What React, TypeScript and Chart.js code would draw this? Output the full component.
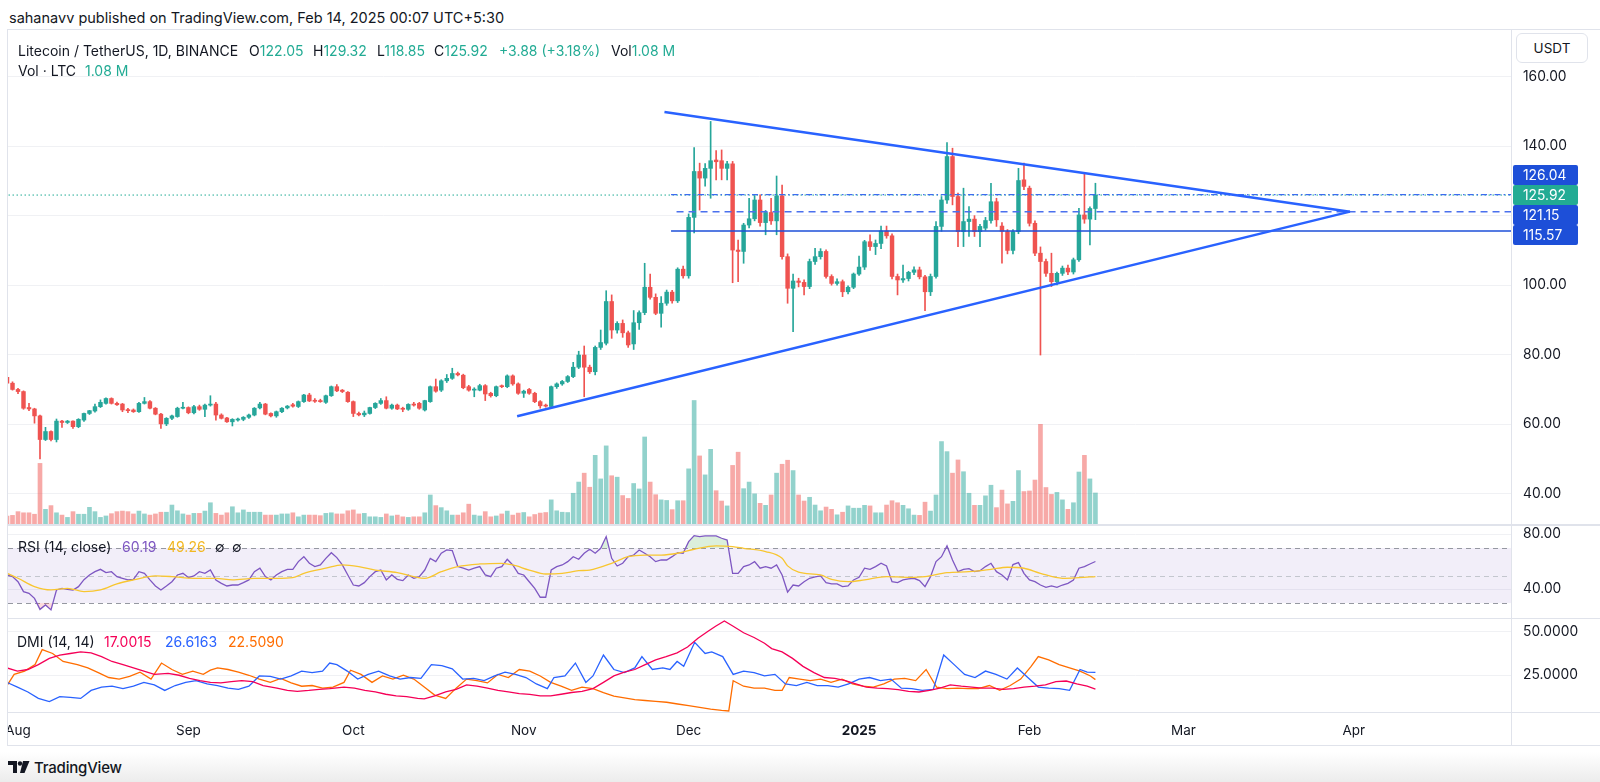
import React, { useEffect, useRef } from "react";
import { Chart, registerables } from "chart.js";

Chart.register(...registerables);

// ---------------- data ----------------
// day index: days counted from 2024-08-01 (0). First candle = 2024-07-30.
const FIRST_DAY = -2;

const opens = [
  73.5, 71.8, 70.0, 69.4, 64.8, 64.4, 62.4, 55.6, 57.9, 55.6, 60.9, 60.5,
  60.9, 59.3, 61.2, 63.1, 63.8, 65.05, 66.0, 67.4, 66.0, 65.8,
  64.2, 64.1, 63.6, 66.0, 66.5, 64.6, 62.9, 60.1, 61.7, 62.2,
  64.6, 64.8, 63.3, 65.05, 64.3, 65.5, 65.8, 62.65, 61.8, 60.7,
  61.2, 61.4, 62.0, 62.65, 64.7, 65.8, 63.1, 62.4, 63.6, 64.7,
  65.6, 65.1, 66.5, 68.4, 66.9, 66.8, 66.3, 68.2, 70.8, 69.8,
  69.2, 66.5, 63.1, 62.7, 63.1, 64.8, 66.0, 66.8, 64.6, 65.5,
  64.6, 64.3, 65.8, 66.0, 64.1, 66.5, 70.8, 69.8, 72.5, 73.2,
  74.6, 74.1, 70.8, 69.8, 69.8, 71.1, 68.9, 68.2, 71.0, 70.8,
  73.9, 71.6, 68.9, 70.0, 68.9, 66.5, 65.5, 65.1, 70.8, 71.6,
  72.3, 73.7, 76.4, 79.9, 76.4, 75.1, 82.1, 83.3, 95.3, 87.1,
  89.0, 86.3, 83.1, 89.2, 92.1, 99.4, 96.5, 91.9, 94.8, 98.0,
  95.5, 104.6, 102.7, 119.5, 132.7, 130.8, 133.6, 136.0, 135.8, 133.6,
  134.9, 110.1, 109.7, 117.3, 119.1, 124.5, 118.0, 120.9, 118.5, 125.7,
  108.2, 99.1, 101.2, 100.8, 99.6, 106.8, 108.2, 109.7, 102.5, 100.5,
  101.0, 98.1, 99.4, 103.2, 105.2, 112.5, 111.1, 112.0, 115.6, 114.2,
  102.5, 101.5, 101.9, 103.7, 104.4, 102.4, 98.1, 102.5, 116.9, 124.5,
  137.0, 125.5, 115.4, 118.3, 119.0, 115.4, 116.4, 118.6, 124.0, 117.0,
  115.4, 110.0, 115.4, 130.3, 127.9, 117.8, 109.2, 106.8, 103.4, 101.0,
  103.4, 104.9, 103.8, 107.3, 120.2, 119.0, 122.05,
];
const highs = [
  73.7, 72.2, 70.3, 69.6, 66.0, 64.6, 62.6, 59.1, 58.1, 61.5, 61.1, 61.1,
  61.0, 61.6, 63.2, 64.0, 65.8, 67.0, 67.6, 67.6, 66.4, 66.0,
  64.6, 64.4, 66.3, 67.7, 66.8, 64.8, 63.1, 61.9, 62.6, 64.9,
  66.3, 65.0, 65.4, 65.5, 65.8, 68.2, 66.3, 63.0, 62.0, 61.6,
  61.8, 62.2, 62.9, 64.8, 66.3, 66.0, 63.3, 63.8, 64.8, 65.4,
  66.0, 66.7, 68.6, 68.9, 67.4, 67.2, 68.4, 71.0, 71.4, 70.0,
  69.4, 66.7, 63.5, 63.8, 64.9, 66.2, 67.4, 67.9, 65.8, 65.8,
  64.9, 65.9, 66.3, 66.3, 66.9, 71.0, 73.0, 72.8, 74.3, 76.1,
  75.0, 74.4, 71.2, 70.5, 71.5, 71.4, 69.2, 71.0, 71.3, 74.2,
  74.2, 71.9, 69.8, 70.3, 69.2, 66.8, 65.8, 71.0, 71.9, 72.6,
  74.0, 77.8, 81.0, 82.5, 77.0, 82.5, 87.1, 98.4, 97.2, 89.5,
  90.0, 86.8, 92.7, 92.6, 106.3, 103.2, 97.5, 96.7, 98.6, 98.5,
  105.0, 105.5, 120.5, 139.6, 135.1, 135.0, 147.1, 138.7, 138.9, 135.6,
  135.6, 113.0, 117.8, 125.0, 125.8, 126.0, 121.5, 125.0, 131.4, 128.8,
  109.0, 103.2, 102.0, 101.5, 107.5, 110.6, 110.5, 110.2, 103.0, 101.8,
  101.5, 99.8, 103.5, 108.4, 112.9, 114.5, 113.0, 117.0, 117.0, 114.8,
  103.2, 105.8, 104.0, 105.3, 105.2, 102.8, 103.2, 118.3, 125.5, 141.0,
  139.4, 126.5, 127.9, 122.6, 120.0, 117.5, 119.5, 129.3, 125.0, 118.0,
  116.0, 116.0, 133.6, 135.1, 128.5, 118.5, 111.0, 107.5, 109.2, 103.8,
  105.5, 105.8, 107.8, 122.1, 132.4, 122.5, 129.32,
];
const lows = [
  71.6, 69.8, 68.8, 64.3, 63.9, 60.3, 50.0, 55.3, 55.2, 54.9, 59.1, 60.2,
  58.8, 59.0, 60.8, 62.8, 63.5, 64.8, 65.8, 65.8, 65.4, 63.6,
  63.3, 63.4, 63.4, 65.8, 64.4, 62.7, 58.8, 59.6, 61.3, 62.0,
  64.4, 63.0, 63.0, 64.0, 62.2, 65.2, 61.2, 61.5, 60.5, 59.5,
  60.9, 61.0, 61.7, 62.4, 64.4, 62.7, 62.1, 62.0, 63.3, 64.4,
  64.9, 64.8, 66.3, 66.5, 66.3, 66.3, 66.0, 68.0, 69.4, 69.1,
  66.3, 62.2, 62.4, 62.2, 62.9, 64.5, 65.7, 64.4, 64.3, 64.2,
  63.6, 64.0, 65.2, 64.3, 63.8, 66.3, 69.2, 69.4, 72.0, 72.9,
  73.9, 70.2, 69.5, 67.9, 69.6, 66.8, 67.8, 67.9, 70.5, 70.5,
  71.2, 68.6, 67.7, 68.6, 66.2, 64.6, 64.9, 64.9, 70.3, 71.2,
  72.0, 73.4, 76.0, 67.9, 74.6, 74.2, 81.5, 82.8, 84.7, 86.2,
  85.0, 82.1, 81.5, 87.3, 91.5, 96.0, 91.5, 87.9, 94.2, 94.8,
  95.0, 102.0, 102.0, 115.0, 121.6, 128.5, 125.0, 130.3, 130.3, 130.3,
  100.7, 101.0, 106.3, 116.5, 118.5, 117.0, 114.5, 117.5, 114.5, 107.5,
  94.8, 86.6, 99.5, 97.2, 99.0, 106.0, 107.5, 102.0, 100.0, 100.0,
  96.7, 97.5, 99.0, 102.8, 104.5, 110.0, 108.8, 110.5, 113.5, 101.8,
  97.2, 100.8, 101.2, 103.0, 101.8, 92.7, 97.0, 102.0, 115.5, 123.5,
  123.1, 111.1, 111.1, 114.0, 114.0, 111.1, 115.8, 117.8, 116.9, 106.3,
  109.0, 109.0, 114.8, 127.5, 117.0, 108.5, 79.9, 102.5, 99.6, 100.1,
  102.8, 103.0, 103.2, 106.8, 117.8, 111.6, 118.85,
];
const closes = [
  71.8, 70.0, 69.4, 64.6, 64.4, 62.4, 55.6, 57.9, 55.6, 60.9, 60.5, 60.9,
  59.3, 61.4, 63.1, 63.9, 65.05, 66.3, 67.4, 66.0, 65.6, 64.1,
  63.9, 63.6, 66.0, 66.5, 64.6, 62.9, 60.1, 61.7, 62.4, 64.6,
  64.8, 63.3, 65.05, 64.3, 65.5, 65.8, 62.65, 61.7, 60.7, 61.4,
  61.5, 62.0, 62.65, 64.6, 65.8, 62.9, 62.4, 63.6, 64.6, 65.2,
  65.2, 66.5, 68.4, 66.7, 66.6, 66.5, 68.2, 70.8, 69.6, 69.4,
  66.5, 63.1, 62.7, 63.2, 64.8, 66.0, 66.8, 64.6, 65.5, 64.4,
  64.3, 65.7, 65.5, 64.6, 66.8, 70.8, 69.5, 72.5, 73.2, 74.6,
  74.2, 70.5, 69.8, 70.1, 71.1, 68.7, 68.2, 70.8, 70.8, 73.9,
  71.6, 68.9, 69.5, 68.9, 66.5, 65.3, 65.2, 70.8, 71.6, 72.3,
  73.7, 76.4, 79.9, 76.4, 75.1, 82.1, 83.5, 95.3, 87.1, 89.0,
  86.3, 82.8, 89.2, 92.1, 99.4, 96.5, 91.9, 94.8, 98.0, 95.5,
  104.6, 102.7, 119.5, 132.7, 130.8, 133.6, 135.8, 135.5, 133.6, 134.9,
  110.1, 109.7, 117.3, 119.1, 124.5, 118.0, 120.9, 118.5, 125.7, 108.2,
  99.1, 101.2, 100.8, 99.6, 106.8, 108.2, 109.7, 102.5, 100.5, 101.0,
  98.1, 99.4, 103.2, 105.2, 112.5, 111.1, 112.0, 115.6, 114.2, 102.5,
  101.5, 101.9, 103.7, 104.4, 102.4, 98.1, 102.5, 116.9, 124.5, 137.0,
  125.5, 115.4, 118.3, 119.0, 115.4, 116.9, 118.6, 124.0, 118.8, 115.5,
  110.0, 115.4, 130.1, 128.4, 117.8, 109.2, 106.8, 103.4, 101.0, 103.4,
  104.9, 103.8, 107.3, 120.2, 119.0, 122.05, 125.92,
];
// volume, million LTC
const volumes = [
  0.28, 0.30, 0.43, 0.39, 0.39, 0.34, 2.11, 0.51, 0.64, 0.39, 0.31, 0.23,
  0.43, 0.34, 0.34, 0.58, 0.43, 0.23, 0.28, 0.36, 0.43, 0.45,
  0.43, 0.35, 0.45, 0.35, 0.31, 0.35, 0.41, 0.41, 0.66, 0.46,
  0.35, 0.31, 0.37, 0.37, 0.45, 0.74, 0.37, 0.31, 0.39, 0.60,
  0.39, 0.49, 0.41, 0.41, 0.41, 0.31, 0.31, 0.31, 0.35, 0.35,
  0.39, 0.25, 0.31, 0.31, 0.31, 0.29, 0.37, 0.39, 0.35, 0.35,
  0.46, 0.49, 0.35, 0.37, 0.25, 0.25, 0.23, 0.35, 0.28, 0.31,
  0.25, 0.23, 0.25, 0.25, 0.39, 1.01, 0.64, 0.57, 0.46, 0.31,
  0.31, 0.39, 0.69, 0.31, 0.28, 0.43, 0.25, 0.28, 0.35, 0.45,
  0.31, 0.38, 0.40, 0.25, 0.33, 0.38, 0.40, 0.84, 0.46, 0.41,
  0.40, 1.07, 1.46, 1.77, 1.28, 2.39, 1.57, 2.72, 1.68, 1.63,
  0.99, 0.89, 1.41, 1.22, 3.03, 1.46, 1.02, 0.84, 0.82, 0.50,
  0.81, 0.81, 1.92, 4.30, 2.37, 1.71, 2.60, 1.16, 0.80, 0.63,
  2.04, 2.50, 1.23, 1.46, 1.05, 0.72, 0.65, 1.01, 1.77, 2.08,
  2.22, 1.86, 1.01, 0.80, 0.93, 0.66, 0.46, 0.59, 0.51, 0.32,
  0.41, 0.63, 0.55, 0.55, 0.65, 0.63, 0.39, 0.39, 0.66, 0.81,
  0.74, 0.65, 0.53, 0.31, 0.30, 0.76, 0.45, 1.01, 2.87, 2.52,
  1.77, 2.23, 1.82, 1.07, 0.65, 0.65, 0.98, 1.35, 0.57, 1.18,
  0.70, 0.79, 1.86, 1.13, 1.15, 1.53, 3.47, 1.27, 1.03, 1.10,
  0.84, 0.51, 0.74, 1.81, 2.39, 1.57, 1.08,
];
// RSI(14), one value per candle
const rsiValues = [
  50.4, 49.2, 45.5, 38.3, 37.1, 33.4, 25.4, 28.6, 25.0, 39.5, 40.7, 40.0,
  39.5, 41.9, 47.0, 50.4, 52.8, 54.5, 52.1, 52.8, 49.2, 48.0,
  46.8, 47.2, 52.8, 51.6, 46.8, 42.4, 39.5, 42.4, 45.5, 50.4,
  51.6, 48.5, 49.7, 52.8, 51.6, 54.0, 46.8, 44.3, 42.4, 43.1,
  43.1, 44.8, 46.8, 52.8, 55.3, 49.2, 46.8, 50.4, 52.8, 54.5,
  54.5, 60.1, 63.7, 58.9, 56.5, 57.7, 62.5, 66.6, 63.0, 57.7,
  50.4, 43.1, 42.4, 44.8, 49.2, 52.8, 54.0, 46.8, 50.4, 47.2,
  46.3, 50.4, 48.0, 49.2, 54.0, 62.5, 60.1, 66.2, 68.6, 68.1,
  56.5, 55.3, 54.0, 55.3, 56.5, 50.4, 49.2, 55.3, 56.5, 61.8,
  57.7, 51.6, 50.4, 45.5, 40.7, 34.2, 34.2, 54.0, 56.5, 57.7,
  60.1, 63.7, 61.8, 66.2, 69.1, 66.2, 69.8, 78.3, 62.5, 56.9,
  58.9, 63.7, 64.9, 68.6, 66.2, 63.7, 60.1, 61.3, 61.3, 63.7,
  66.6, 66.2, 74.6, 79.0, 78.3, 78.8, 78.8, 78.8, 77.1, 75.8,
  51.6, 51.6, 56.5, 57.7, 60.1, 55.3, 56.5, 55.3, 57.7, 50.4,
  38.0, 43.1, 42.4, 45.5, 48.0, 49.0, 49.7, 44.8, 44.0, 43.9,
  41.9, 42.4, 46.8, 48.7, 55.3, 54.5, 56.5, 58.9, 56.9, 45.5,
  44.8, 46.8, 47.5, 48.0, 46.3, 41.9, 49.2, 60.1, 63.7, 71.5,
  61.3, 52.8, 54.5, 55.0, 52.8, 53.5, 56.5, 58.9, 52.8, 50.4,
  46.8, 58.0, 59.4, 51.6, 46.8, 45.5, 43.1, 41.4, 42.4, 41.4,
  43.1, 44.3, 46.8, 55.3, 56.5, 58.4, 60.19,
];
// RSI-based MA, read at sampled days
const rsiMaDays = [-2, 0, 3, 6, 9, 12, 15, 18, 21, 25, 28, 32, 36, 39, 43, 47, 50, 52, 56, 59, 62, 65, 69, 72, 74, 77, 80, 84, 88, 90, 93, 96, 99, 102, 104, 108, 111, 114, 117, 120, 123, 127, 130, 132, 136, 139, 140, 142, 146, 148, 151, 154, 158, 162, 165, 169, 173, 177, 180, 183, 186, 190, 193, 196];
const rsiMaValues = [51.6, 48.0, 41.9, 39.5, 40.7, 38.3, 39.5, 43.9, 46.8, 49.7, 49.2, 48.0, 48.0, 46.8, 48.0, 48.0, 48.5, 51.6, 55.3, 57.7, 56.5, 54.0, 52.1, 49.2, 48.0, 52.8, 56.5, 58.4, 58.9, 57.7, 54.0, 51.1, 51.6, 53.5, 54.0, 58.9, 63.7, 64.9, 64.9, 66.2, 69.1, 71.5, 71.0, 69.8, 67.4, 62.5, 57.0, 52.5, 50.4, 47.2, 45.5, 46.8, 49.2, 48.7, 49.2, 52.1, 52.8, 54.5, 56.0, 55.3, 51.6, 48.0, 48.5, 49.26];

// DMI (14,14)
const adxDays = [-2.0, -0.1, 1.8, 3.7, 5.7, 7.6, 9.5, 11.4, 13.3, 15.2, 17.1, 19.1, 21.0, 22.9, 24.8, 27.3, 29.3, 31.2, 33.1, 35.0, 36.9, 38.8, 40.7, 42.7, 44.6, 47.1, 49.0, 50.8, 52.9, 54.8, 56.7, 59.3, 61.2, 63.1, 65.0, 66.9, 68.8, 70.7, 72.7, 73.9, 75.8, 77.8, 79.7, 81.6, 83.5, 85.4, 87.3, 89.2, 91.2, 93.1, 95.0, 96.9, 98.8, 100.7, 102.6, 104.6, 106.5, 108.4, 110.3, 112.2, 114.1, 116.0, 117.9, 119.9, 121.8, 123.7, 125.6, 126.9, 128.5, 130.1, 132.0, 133.9, 135.8, 137.1, 139.0, 140.9, 142.8, 144.8, 146.7, 148.6, 150.5, 152.4, 154.3, 156.3, 158.2, 160.1, 162.0, 163.9, 165.8, 167.7, 169.6, 171.6, 173.5, 175.4, 177.3, 179.2, 181.1, 183.0, 185.0, 186.9, 188.8, 190.7, 192.6, 194.5, 196];
const adxValues = [29.2, 27.4, 28.3, 31.1, 34.7, 36.6, 37.5, 38.4, 37.9, 35.7, 32.9, 31.1, 29.2, 27.4, 25.5, 26.1, 25.0, 23.2, 21.9, 20.9, 20.6, 21.3, 21.9, 21.3, 19.1, 17.6, 16.3, 15.8, 16.3, 16.9, 17.3, 18.2, 17.6, 16.3, 15.4, 14.1, 13.2, 12.7, 11.7, 11.4, 13.2, 15.4, 16.9, 19.5, 18.7, 17.6, 16.3, 15.4, 14.5, 14.0, 13.2, 13.2, 14.1, 15.1, 15.8, 17.3, 20.9, 24.6, 26.8, 28.3, 31.1, 33.8, 35.7, 37.9, 41.2, 46.3, 50.4, 53.1, 56.2, 53.1, 49.4, 46.7, 43.4, 40.3, 38.4, 34.7, 30.1, 26.5, 23.7, 23.2, 21.9, 20.0, 18.2, 17.6, 17.3, 16.7, 15.8, 15.4, 16.3, 17.6, 19.5, 18.7, 18.2, 17.6, 17.6, 16.9, 17.3, 18.2, 18.7, 19.5, 21.3, 21.7, 20.0, 18.7, 17.0];
const plusDiDays = [-2.0, -0.1, 1.8, 3.7, 5.7, 7.6, 9.5, 11.4, 13.3, 15.2, 17.1, 19.1, 21.0, 22.9, 24.8, 26.7, 28.6, 30.5, 32.4, 34.4, 36.3, 38.2, 40.1, 42.0, 43.9, 45.9, 47.8, 49.7, 51.6, 53.5, 55.4, 56.7, 58.0, 59.9, 61.8, 63.7, 65.6, 67.6, 69.5, 71.4, 73.3, 75.2, 77.1, 79.0, 80.9, 82.9, 84.8, 86.7, 88.6, 90.5, 92.4, 94.3, 96.3, 97.5, 99.5, 101.4, 103.3, 104.6, 106.5, 108.4, 110.3, 112.2, 113.5, 115.4, 117.3, 118.6, 119.9, 121.1, 123.1, 125.0, 126.2, 128.2, 130.1, 132.0, 133.9, 135.8, 137.7, 139.6, 141.6, 143.5, 145.4, 147.3, 149.2, 151.1, 153.0, 154.9, 156.9, 158.8, 160.7, 162.6, 164.5, 166.5, 168.4, 170.3, 172.2, 174.1, 176.0, 177.9, 179.9, 181.8, 183.7, 185.6, 187.5, 189.4, 191.3, 193.2, 194.5, 196];
const plusDiValues = [20.9, 18.2, 15.4, 11.7, 9.9, 12.7, 12.3, 11.7, 16.3, 18.2, 18.7, 17.3, 18.7, 20.9, 19.5, 16.3, 19.1, 20.9, 21.9, 20.0, 19.1, 17.6, 16.9, 18.7, 24.6, 24.3, 22.8, 24.6, 27.4, 26.5, 27.4, 32.0, 31.1, 27.4, 22.8, 25.5, 27.4, 24.6, 22.8, 23.7, 23.2, 31.1, 30.5, 28.7, 22.8, 23.2, 21.9, 24.6, 26.8, 25.5, 23.7, 20.0, 17.3, 23.7, 24.6, 32.0, 20.9, 24.6, 36.6, 28.3, 26.5, 29.2, 35.7, 28.3, 29.2, 28.3, 32.9, 30.1, 43.9, 37.5, 38.4, 35.7, 25.5, 27.4, 26.5, 24.6, 25.5, 20.0, 19.1, 20.9, 19.1, 19.1, 18.2, 20.0, 22.8, 23.7, 21.9, 22.8, 17.6, 17.3, 16.3, 16.9, 36.6, 31.1, 25.5, 23.7, 27.4, 25.5, 22.8, 29.2, 23.7, 18.2, 17.6, 17.3, 16.3, 28.3, 26.8, 26.6];
const minusDiDays = [-2.0, -0.7, 1.2, 3.1, 4.4, 6.3, 8.2, 10.8, 12.7, 14.6, 16.5, 18.4, 20.3, 22.2, 24.2, 26.1, 28.0, 29.9, 31.8, 33.7, 35.0, 36.3, 38.2, 40.1, 42.0, 43.9, 45.9, 47.8, 49.7, 51.6, 53.5, 55.4, 57.3, 59.3, 60.5, 62.4, 64.4, 66.3, 68.2, 70.1, 72.0, 73.9, 75.8, 77.8, 79.7, 81.6, 83.5, 85.4, 87.3, 89.2, 91.2, 93.1, 95.0, 96.9, 98.8, 100.7, 102.6, 104.6, 106.5, 108.4, 110.3, 112.2, 114.1, 116.0, 118.0, 120.0, 122.0, 124.0, 126.0, 128.0, 129.3, 130.1, 132.0, 133.9, 135.8, 137.7, 139.0, 140.3, 142.2, 144.1, 146.0, 147.9, 149.9, 151.8, 153.7, 155.6, 157.5, 159.4, 161.3, 163.3, 165.2, 167.1, 169.0, 170.9, 172.8, 174.7, 176.7, 178.6, 180.5, 182.4, 184.3, 185.6, 187.5, 189.4, 191.3, 193.2, 195.1, 196];
const minusDiValues = [19.1, 25.5, 27.4, 31.1, 39.7, 37.5, 32.9, 31.1, 29.2, 26.5, 23.7, 22.8, 24.3, 26.8, 22.8, 32.0, 28.3, 25.5, 27.4, 25.5, 27.9, 29.2, 28.3, 26.8, 25.0, 22.8, 20.9, 23.2, 20.6, 18.7, 19.1, 17.6, 18.2, 20.9, 27.9, 25.5, 20.9, 24.6, 22.8, 25.0, 22.8, 18.2, 13.6, 11.7, 17.6, 22.8, 21.9, 20.6, 25.5, 23.7, 28.3, 27.4, 24.6, 20.9, 18.7, 16.3, 18.2, 17.3, 15.0, 13.0, 12.0, 11.0, 10.5, 10.0, 9.5, 8.5, 7.5, 6.5, 5.5, 4.8, 4.5, 21.9, 18.7, 17.6, 17.6, 16.3, 16.3, 23.7, 22.8, 21.9, 22.8, 20.9, 22.8, 20.0, 18.7, 18.2, 20.0, 22.8, 23.2, 21.9, 28.3, 18.2, 17.3, 17.6, 17.3, 17.3, 19.1, 16.3, 19.1, 22.8, 30.1, 35.7, 33.8, 31.1, 29.2, 27.4, 24.6, 22.5];

// drawings (symmetrical triangle + levels)
const triangleUpperDays = [117.6, 242.3];
const triangleUpperPrices = [149.8, 121.15];
const triangleLowerDays = [90.8, 242.3];
const triangleLowerPrices = [62.3, 121.15];
const levelPrices = [126.04, 121.15, 115.57];
const levelStartDays = [118.8, 119.8, 118.8];
const lastPrice = 125.92;

const monthTickDays = [0, 31, 61, 92, 122, 153, 184, 212, 243];
const monthTickLabels = ["Aug", "Sep", "Oct", "Nov", "Dec", "2025", "Feb", "Mar", "Apr"];
const priceTicks = [40, 60, 80, 100, 120, 140, 160];
const hiddenPriceTickLabels = [120];
const rsiTicks = [40, 80];
const rsiBandLevels = [70, 50, 30];
const dmiTicks = [25, 50];

// ---------------- styling / ranges ----------------
const FONT = "Inter, 'Noto Sans', 'DejaVu Sans', sans-serif";
const TEXT = "#131722";
const UP = "#26a69a";
const DOWN = "#ef5350";
const UP_VOL = "rgba(38,166,154,0.5)";
const DOWN_VOL = "rgba(239,83,80,0.5)";
const GRID = "#f0f1f4";
const BORDER = "#e0e3eb";
const LABEL_BLUE = "#1d4fd8";
const LAST_TEAL = "#22ab94";

const X_MIN = -1.82;
const X_MAX = 271.6;
const PRICE_MIN = 31.3;
const PRICE_MAX = 173.4;
const VOL_MAX = 17.2;
const RSI_MIN = 18.4;
const RSI_MAX = 86.0;
const DMI_MIN = 3.9;
const DMI_MAX = 57.3;
const AXIS_W = 89;
const AXIS_FONT = 13.8;

const candleDays = opens.map((_, i) => FIRST_DAY + i);

function rightAxisFit(axis: any) {
  axis.width = AXIS_W;
  axis.paddingTop = 0;
  axis.paddingBottom = 0;
}

function rightAxis(min: number, max: number, ticks: number[], fmt: (v: number) => string) {
  return {
    type: "linear",
    position: "right",
    min,
    max,
    afterBuildTicks: (a: any) => {
      a.ticks = ticks.map((v) => ({ value: v }));
    },
    afterFit: rightAxisFit,
    grid: { color: GRID, drawTicks: false },
    border: { display: false },
    ticks: {
      padding: 12,
      color: TEXT,
      font: { family: FONT, size: AXIS_FONT },
      callback: (v: any) => fmt(Number(v)),
    },
  };
}

const hiddenX = { type: "linear", min: X_MIN, max: X_MAX, display: false, offset: false };

const priceLabelPlugin = {
  id: "priceLabels",
  afterDraw(chart: any) {
    const s = chart.scales.y;
    const ctx = chart.ctx;
    const H = 20;
    const items = [
      { v: levelPrices[0], color: LABEL_BLUE },
      { v: lastPrice, color: LAST_TEAL },
      { v: levelPrices[1], color: LABEL_BLUE },
      { v: levelPrices[2], color: LABEL_BLUE },
    ].map((it) => ({ ...it, y: s.getPixelForValue(it.v) }));
    const anchor = 1;
    for (let i = anchor - 1; i >= 0; i--) items[i].y = Math.min(items[i].y, items[i + 1].y - H);
    for (let i = anchor + 1; i < items.length; i++) items[i].y = Math.max(items[i].y, items[i - 1].y + H);
    ctx.save();
    ctx.font = `${AXIS_FONT}px ${FONT}`;
    ctx.textBaseline = "middle";
    ctx.textAlign = "left";
    for (const it of items) {
      const x0 = s.left + 2;
      ctx.fillStyle = it.color;
      ctx.beginPath();
      ctx.roundRect(x0, it.y - H / 2, 65, H, 2);
      ctx.fill();
      ctx.fillStyle = "#ffffff";
      ctx.fillText(it.v.toFixed(2), s.left + 12, it.y + 0.5);
    }
    ctx.restore();
  },
};

const rsiBandPlugin = {
  id: "rsiBand",
  beforeDatasetsDraw(chart: any) {
    const { ctx, chartArea: a, scales } = chart;
    const y = scales.y;
    const top = y.getPixelForValue(rsiBandLevels[0]);
    const bot = y.getPixelForValue(rsiBandLevels[2]);
    ctx.save();
    ctx.fillStyle = "rgba(126,87,194,0.1)";
    ctx.fillRect(a.left, top, a.right - a.left, bot - top);
    ctx.lineWidth = 1;
    ctx.setLineDash([5, 4]);
    rsiBandLevels.forEach((lv, i) => {
      const yy = Math.round(y.getPixelForValue(lv)) + 0.5;
      ctx.strokeStyle = i === 1 ? "#c3c6ce" : "#9598a1";
      ctx.beginPath();
      ctx.moveTo(a.left, yy);
      ctx.lineTo(a.right, yy);
      ctx.stroke();
    });
    ctx.restore();
  },
};

function lineDs(xs: number[], ys: number[], color: string, width: number, extra: any = {}) {
  return {
    type: "line",
    data: xs.map((x, i) => ({ x, y: ys[i] })),
    borderColor: color,
    borderWidth: width,
    pointRadius: 0,
    tension: 0,
    fill: false,
    ...extra,
  };
}

function mainConfig(): any {
  const up = candleDays.map((_, i) => closes[i] >= opens[i]);
  return {
    type: "bar",
    data: {
      datasets: [
        lineDs(triangleUpperDays, triangleUpperPrices, "#2962ff", 2.5, { order: 0 }),
        lineDs(triangleLowerDays, triangleLowerPrices, "#2962ff", 2.5, { order: 0 }),
        lineDs([levelStartDays[0], X_MAX + 5], [levelPrices[0], levelPrices[0]], "#3d6cf0", 1.2, { order: 0, borderDash: [6, 3, 1.5, 3] }),
        lineDs([levelStartDays[1], X_MAX + 5], [levelPrices[1], levelPrices[1]], "#4a70ee", 1.5, { order: 0, borderDash: [7, 5] }),
        lineDs([levelStartDays[2], X_MAX + 5], [levelPrices[2], levelPrices[2]], "#1d4fd8", 1.5, { order: 0 }),
        lineDs([X_MIN - 5, X_MAX + 5], [lastPrice, lastPrice], LAST_TEAL, 1, { order: 6, borderDash: [1.5, 2.5] }),
        {
          type: "bar",
          data: candleDays.map((d, i) => ({ x: d, y: [opens[i], closes[i]] })),
          backgroundColor: up.map((u) => (u ? UP : DOWN)),
          borderWidth: 0,
          barThickness: 3.8,
          minBarLength: 1,
          grouped: false,
          order: 2,
          yAxisID: "y",
        },
        {
          type: "bar",
          data: candleDays.map((d, i) => ({ x: d, y: [lows[i], highs[i]] })),
          backgroundColor: up.map((u) => (u ? UP : DOWN)),
          borderWidth: 0,
          barThickness: 1,
          grouped: false,
          order: 3,
          yAxisID: "y",
        },
        {
          type: "bar",
          data: candleDays.map((d, i) => ({ x: d, y: volumes[i] })),
          backgroundColor: up.map((u) => (u ? UP_VOL : DOWN_VOL)),
          borderWidth: 0,
          barThickness: 4,
          grouped: false,
          order: 10,
          yAxisID: "vol",
        },
      ],
    },
    options: {
      responsive: false,
      animation: false,
      events: [],
      layout: { padding: { left: 1, right: 0, top: 0, bottom: 0 } },
      plugins: { legend: { display: false }, tooltip: { enabled: false } },
      scales: {
        x: hiddenX,
        y: rightAxis(PRICE_MIN, PRICE_MAX, priceTicks, (v) =>
          hiddenPriceTickLabels.includes(v) ? "" : v.toFixed(2)
        ),
        vol: { type: "linear", display: false, min: 0, max: VOL_MAX },
      },
    },
    plugins: [priceLabelPlugin],
  };
}

function rsiConfig(): any {
  const pts = candleDays.map((d, i) => ({ x: d, y: rsiValues[i] }));
  return {
    type: "line",
    data: {
      datasets: [
        {
          data: pts,
          borderColor: "#7e57c2",
          borderWidth: 1.3,
          pointRadius: 0,
          tension: 0,
          fill: { target: { value: rsiBandLevels[0] }, above: "rgba(76,175,80,0.2)", below: "rgba(0,0,0,0)" },
          order: 1,
        },
        {
          data: pts,
          borderColor: "rgba(0,0,0,0)",
          borderWidth: 0,
          pointRadius: 0,
          tension: 0,
          fill: { target: { value: rsiBandLevels[2] }, above: "rgba(0,0,0,0)", below: "rgba(242,54,69,0.18)" },
          order: 3,
        },
        lineDs(rsiMaDays, rsiMaValues, "#f8c630", 1.3, { order: 0, cubicInterpolationMode: "monotone" }),
      ],
    },
    options: {
      responsive: false,
      animation: false,
      events: [],
      layout: { padding: { left: 1, right: 0, top: 0, bottom: 0 } },
      plugins: { legend: { display: false }, tooltip: { enabled: false } },
      scales: {
        x: hiddenX,
        y: rightAxis(RSI_MIN, RSI_MAX, rsiTicks, (v) => v.toFixed(2)),
      },
    },
    plugins: [rsiBandPlugin],
  };
}

function dmiConfig(): any {
  return {
    type: "line",
    data: {
      datasets: [
        lineDs(minusDiDays, minusDiValues, "#ff6d00", 1.3, { order: 2 }),
        lineDs(plusDiDays, plusDiValues, "#2962ff", 1.3, { order: 1 }),
        lineDs(adxDays, adxValues, "#f50057", 1.3, { order: 0 }),
      ],
    },
    options: {
      responsive: false,
      animation: false,
      events: [],
      layout: { padding: { left: 1, right: 0, top: 0, bottom: 0 } },
      plugins: { legend: { display: false }, tooltip: { enabled: false } },
      scales: {
        x: {
          type: "linear",
          min: X_MIN,
          max: X_MAX,
          offset: false,
          position: "bottom",
          afterBuildTicks: (a: any) => {
            a.ticks = monthTickDays.map((v) => ({ value: v }));
          },
          afterFit: (a: any) => {
            a.height = 33;
            a.paddingLeft = 0;
            a.paddingRight = 0;
          },
          grid: { display: false, drawTicks: false },
          border: { display: false },
          ticks: {
            autoSkip: false,
            maxRotation: 0,
            padding: 11,
            color: TEXT,
            callback: (v: any) => monthTickLabels[monthTickDays.indexOf(Number(v))],
            font: (c: any) => ({
              family: FONT,
              size: 13.5,
              weight: monthTickLabels[c.index] === "2025" ? "bold" : "normal",
            }),
          },
        },
        y: rightAxis(DMI_MIN, DMI_MAX, dmiTicks, (v) => v.toFixed(4)),
      },
    },
  };
}

const abs = (l: number, t: number, w: number, h: number, extra: any = {}) => ({
  position: "absolute" as const,
  left: l,
  top: t,
  width: w,
  height: h,
  ...extra,
});

const teal = { color: "#22ab94" };

export default function App() {
  const mainRef = useRef<HTMLCanvasElement>(null);
  const rsiRef = useRef<HTMLCanvasElement>(null);
  const dmiRef = useRef<HTMLCanvasElement>(null);

  useEffect(() => {
    const charts = [
      new Chart(mainRef.current as HTMLCanvasElement, mainConfig()),
      new Chart(rsiRef.current as HTMLCanvasElement, rsiConfig()),
      new Chart(dmiRef.current as HTMLCanvasElement, dmiConfig()),
    ];
    return () => charts.forEach((c) => c.destroy());
  }, []);

  const textLine = (top: number, size = 14) => ({
    position: "absolute" as const,
    top,
    fontSize: size,
    lineHeight: "17px",
    whiteSpace: "nowrap" as const,
  });

  return (
    <div
      style={{
        position: "absolute",
        left: 0,
        top: 0,
        width: 1600,
        height: 782,
        overflow: "hidden",
        background: "#ffffff",
        fontFamily: FONT,
        color: TEXT,
      }}
    >
      {/* bottom shadow */}
      <div style={abs(0, 752, 1600, 30, { background: "linear-gradient(#ffffff, #ececec)" })} />

      <div style={{ ...textLine(9, 14.5), left: 9 }}>
        sahanavv published on TradingView.com, Feb 14, 2025 00:07 UTC+5:30
      </div>

      {/* panes */}
      <div style={abs(7, 30, 1593, 494)}>
        <canvas ref={mainRef} width={1593} height={494} style={{ display: "block", width: 1593, height: 494 }} />
      </div>
      <div style={abs(7, 526, 1593, 93)}>
        <canvas ref={rsiRef} width={1593} height={93} style={{ display: "block", width: 1593, height: 93 }} />
      </div>
      <div style={abs(7, 619, 1593, 126)}>
        <canvas ref={dmiRef} width={1593} height={126} style={{ display: "block", width: 1593, height: 126 }} />
      </div>

      {/* frame lines */}
      <div style={abs(7, 29, 1593, 1, { background: BORDER })} />
      <div style={abs(7, 29, 1, 716, { background: BORDER })} />
      <div style={abs(7, 524, 1593, 2, { background: BORDER })} />
      <div style={abs(7, 618, 1593, 1, { background: BORDER })} />
      <div style={abs(7, 712, 1593, 1, { background: BORDER })} />
      <div style={abs(7, 745, 1593, 1, { background: BORDER })} />
      <div style={abs(1511, 29, 1, 716, { background: BORDER })} />

      {/* main legend */}
      <div style={{ ...textLine(41.5), left: 18 }}>Litecoin / TetherUS, 1D, BINANCE</div>
      <div style={{ ...textLine(41.5), left: 249 }}>O<span style={teal}>122.05</span></div>
      <div style={{ ...textLine(41.5), left: 313 }}>H<span style={teal}>129.32</span></div>
      <div style={{ ...textLine(41.5), left: 377 }}>L<span style={teal}>118.85</span></div>
      <div style={{ ...textLine(41.5), left: 434 }}>C<span style={teal}>125.92</span></div>
      <div style={{ ...textLine(41.5), left: 499, ...teal }}>+3.88 (+3.18%)</div>
      <div style={{ ...textLine(41.5), left: 611 }}>Vol<span style={teal}>1.08 M</span></div>
      <div style={{ ...textLine(62), left: 18 }}>Vol · LTC</div>
      <div style={{ ...textLine(62), left: 85, ...teal }}>1.08 M</div>

      {/* USDT box */}
      <div
        style={abs(1516, 33, 72, 30, {
          border: `1px solid ${BORDER}`,
          borderRadius: 6,
          boxSizing: "border-box",
          display: "flex",
          alignItems: "center",
          justifyContent: "center",
          fontSize: 13.5,
          background: "#fff",
        })}
      >
        USDT
      </div>

      {/* RSI legend */}
      <div style={{ ...textLine(538), left: 18 }}>RSI (14, close)</div>
      <div style={{ ...textLine(538), left: 122, color: "#7e57c2" }}>60.19</div>
      <div style={{ ...textLine(538), left: 167, color: "#f2b823" }}>49.26</div>
      <div style={{ ...textLine(538), left: 215 }}>∅</div>
      <div style={{ ...textLine(538), left: 232 }}>∅</div>

      {/* DMI legend */}
      <div style={{ ...textLine(633), left: 17 }}>DMI (14, 14)</div>
      <div style={{ ...textLine(633), left: 104, color: "#f50057" }}>17.0015</div>
      <div style={{ ...textLine(633), left: 165, color: "#2962ff" }}>26.6163</div>
      <div style={{ ...textLine(633), left: 228, color: "#ff6d00" }}>22.5090</div>

      {/* TradingView logo */}
      <div style={abs(8, 757, 140, 20, { display: "flex", alignItems: "center", gap: 4 })}>
        <svg width="22" height="14" viewBox="0 0 22 14">
          <path d="M0 1h9v12H5V5H0z" fill="#131722" />
          <circle cx="12" cy="3.5" r="2.2" fill="#131722" />
          <path d="M15 1h6.5l-5 12h-4.5z" fill="#131722" />
        </svg>
        <span style={{ fontSize: 15, fontWeight: 500, letterSpacing: -0.2 }}>TradingView</span>
      </div>
    </div>
  );
}
